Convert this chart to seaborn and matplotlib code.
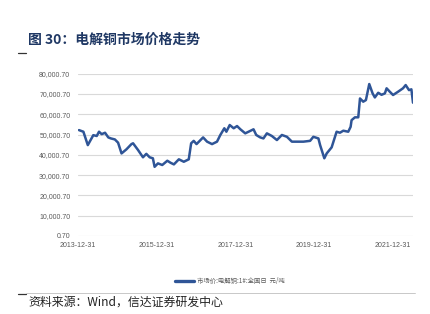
import matplotlib
matplotlib.use("Agg")
import matplotlib.pyplot as plt
import matplotlib.dates as mdates
from matplotlib.lines import Line2D
import seaborn as sns
import pandas as pd

# ---- data ----
dates = [
    "2014-01-09", "2014-02-19", "2014-04-01", "2014-05-22", "2014-06-23", "2014-07-14",
    "2014-08-08", "2014-09-08", "2014-10-08", "2014-11-01", "2014-12-08", "2015-01-07",
    "2015-02-08", "2015-03-25", "2015-05-11", "2015-05-26", "2015-07-11", "2015-08-26",
    "2015-09-26", "2015-10-27", "2015-11-26", "2015-12-12", "2016-01-12", "2016-02-21",
    "2016-04-08", "2016-05-08", "2016-06-08", "2016-07-24", "2016-09-08", "2016-10-24",
    "2016-11-15", "2016-12-09", "2017-01-04", "2017-02-10", "2017-03-06", "2017-04-12",
    "2017-05-28", "2017-07-13", "2017-08-13", "2017-09-19", "2017-10-08", "2017-11-08",
    "2017-12-15", "2018-01-15", "2018-02-15", "2018-04-01", "2018-05-02", "2018-06-17",
    "2018-07-12", "2018-08-18", "2018-09-17", "2018-10-19", "2018-12-04", "2019-01-20",
    "2019-03-07", "2019-04-23", "2019-06-08", "2019-07-24", "2019-09-23", "2019-11-24",
    "2019-12-24", "2020-02-09", "2020-02-25", "2020-04-04", "2020-04-26", "2020-06-11",
    "2020-07-27", "2020-08-27", "2020-09-27", "2020-11-12", "2020-12-04", "2020-12-13",
    "2021-01-13", "2021-02-13", "2021-03-01", "2021-03-31", "2021-04-25", "2021-05-26",
    "2021-06-26", "2021-07-17", "2021-08-17", "2021-09-17", "2021-10-18", "2021-11-03",
    "2021-12-03", "2022-01-02", "2022-02-17", "2022-04-04", "2022-04-29", "2022-05-30",
    "2022-06-21", "2022-07-06",
]
prices = [
    52200, 51400, 44800, 49700, 49300, 51400,
    50200, 50900, 48600, 48100, 47600, 46000,
    40700, 42700, 45300, 45700, 42400, 38800,
    40500, 38800, 38300, 34100, 35800, 35000,
    37100, 36100, 35300, 37800, 36600, 37800,
    45700, 46900, 45300, 47300, 48600, 46500,
    45300, 46500, 49800, 53100, 51400, 54700,
    53100, 54200, 52600, 50600, 51400, 52600,
    49800, 48600, 48100, 50600, 49300, 47300,
    49800, 48900, 46500, 46500, 46500, 46900,
    48900, 48100, 44800, 38300, 40700, 43700,
    51400, 50900, 51900, 51400, 53800, 57100,
    58500, 58500, 67800, 66200, 67000, 74900,
    70300, 68300, 70600, 69600, 70300, 72800,
    71100, 69500, 71100, 72800, 74400, 71900,
    72300, 65700,
]
series_name = "市场价:电解铜:1#:全国日  元/吨"
yticks = [0.7, 10000.7, 20000.7, 30000.7, 40000.7, 50000.7, 60000.7, 70000.7, 80000.7]
xtick_dates = ["2013-12-31", "2015-12-31", "2017-12-31", "2019-12-31", "2021-12-31"]
title = "图 30：电解铜市场价格走势"
source = "资料来源：Wind，信达证券研发中心"

df = pd.DataFrame({"date": pd.to_datetime(dates), "price": prices})

sns.set_style("white")
plt.rcParams["font.family"] = ["Liberation Sans", "Noto Sans CJK SC", "DejaVu Sans"]

line_color = "#2f5597"
fig = plt.figure(figsize=(4.3, 3.14), dpi=100)
ax = fig.add_axes([78 / 430, 1 - 236 / 314, 335 / 430, (236 - 73.7) / 314])

sns.lineplot(data=df, x="date", y="price", ax=ax, color=line_color, linewidth=1.8)

ax.set_ylim(0.7, 80000.7)
ax.set_yticks(yticks)
ax.set_yticklabels([f"{v:,.2f}" for v in yticks])
ax.set_xlim(pd.Timestamp("2013-12-31"), pd.Timestamp("2022-07-06"))
ax.set_xticks(pd.to_datetime(xtick_dates))
ax.xaxis.set_major_formatter(mdates.DateFormatter("%Y-%m-%d"))
ax.set_xlabel("")
ax.set_ylabel("")
ax.grid(axis="y", color="#d9d9d9", linewidth=0.8)
ax.grid(axis="x", visible=False)
ax.set_axisbelow(True)
for s in ax.spines.values():
    s.set_visible(False)
ax.tick_params(axis="y", length=0, pad=5.5, labelsize=5.0, labelcolor="#595959")
ax.tick_params(axis="x", length=0, pad=4.5, labelsize=5.0, labelcolor="#595959")

# legend
handle = Line2D([0], [0], color=line_color, linewidth=2.4)
fig.legend([handle], [series_name], loc="center", bbox_to_anchor=(230 / 430, 1 - 281 / 314),
           frameon=False, handlelength=3.0, handletextpad=0.5,
           labelcolor="#595959", prop={"family": ["Noto Sans CJK SC", "DejaVu Sans"], "size": 4.6})

# title and decorations
fig.text(28 / 430, 1 - 40 / 314, title, fontsize=10, fontweight="bold", color="#1f3864",
         va="center", ha="left", family=["Noto Sans CJK SC", "DejaVu Sans"])
fig.add_artist(Line2D([18 / 430, 26 / 430], [1 - 53 / 314, 1 - 53 / 314], color="#333333", linewidth=0.9))
fig.add_artist(Line2D([18 / 430, 26 / 430], [1 - 294 / 314, 1 - 294 / 314], color="#333333", linewidth=0.9))
fig.add_artist(Line2D([26 / 430, 415 / 430], [1 - 293 / 314, 1 - 293 / 314], color="#bfbfbf", linewidth=0.6))
fig.text(28 / 430, 1 - 302 / 314, source, fontsize=8.6, style="italic", color="#222222",
         va="center", ha="left", family=["Noto Sans CJK SC", "DejaVu Sans"])

fig.savefig("out.png", dpi=100)
